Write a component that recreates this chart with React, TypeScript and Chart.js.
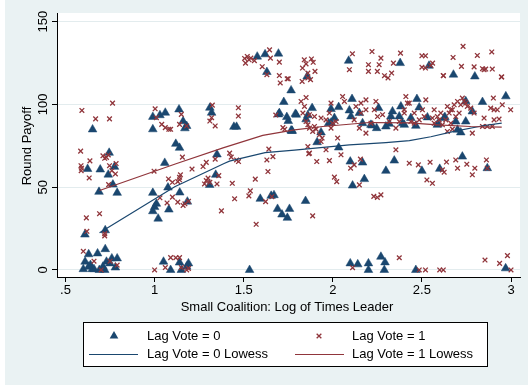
import React, { useEffect, useRef } from "react";
import { Chart, registerables } from "chart.js";
Chart.register(...registerables);

const xTicks = [0.5, 1, 1.5, 2, 2.5, 3];
const xTickLabels = [".5", "1", "1.5", "2", "2.5", "3"];
const yTicks = [0, 50, 100, 150];
const yTickLabels = ["0", "50", "100", "150"];
const seriesNames = ["Lag Vote = 0", "Lag Vote = 1", "Lag Vote = 0 Lowess", "Lag Vote = 1 Lowess"];
const xTitle = "Small Coalition: Log of Times Leader";
const yTitle = "Round Payoff";

const lagVote0: [number, number][] = [
  [0.652, 84.9], [0.745, 70.8], [0.624, 61], [0.695, 60.7], [0.74, 57.6], [0.775, 62.3], [0.766, 51.6], [0.688, 47.2], [0.79, 46.6],
  [0.723, 24], [0.609, 21.4], [0.723, 12.6], [0.63, 9.5], [0.68, 10],
  [0.61, 5], [0.64, 3], [0.6, 0.5], [0.65, 0.5], [0.69, 0], [0.73, 5], [0.76, 7], [0.79, 7], [0.72, 0], [0.78, 1.5], [0.66, 0.5], [0.63, 2], [0.71, 2], [0.75, 4],
  [0.99, 92.5], [1.03, 93.5], [1.06, 95], [0.99, 85], [1.057, 64.7], [1.075, 49.8], [0.99, 46.6], [1.0, 38], [0.99, 35.5], [1.01, 40], [1.08, 36.5], [1.02, 31], [1.05, 5], [1.09, 0], [1.119, 76.2],
  [1.137, 97], [1.31, 98], [1.32, 95], [1.16, 89.8], [1.18, 87], [1.17, 85.6], [1.445, 86.5], [1.46, 86.5], [1.14, 73.8], [1.35, 69.8], [1.343, 57.5], [1.309, 51.4], [1.141, 46.8], [1.184, 41.3],
  [1.593, 43], [1.654, 44.8], [1.67, 45.2], [1.69, 36.9], [1.715, 33.5], [1.745, 31.5], [1.14, 4.5], [1.19, 4], [1.15, 0], [1.18, 2], [1.533, 0],
  [1.576, 128.9], [1.62, 130.3], [1.695, 130.7], [1.63, 119.6], [1.766, 108.5], [1.725, 101.5], [1.695, 94], [1.75, 90], [1.77, 84],
  [1.856, 116.9], [2.089, 126.4], [2.378, 125], [2.54, 123.4], [2.677, 118], [2.797, 116.9], [2.108, 103.3], [2.472, 103.3], [2.84, 101.5], [2.971, 104.9], [2.746, 102],
  [1.884, 97.8], [1.795, 93.8], [2.033, 98.4], [1.99, 97.2], [2.093, 96.4], [2.102, 92.8], [2.149, 94.8], [2.167, 88.7], [2.257, 97.8], [2.214, 87.7], [2.246, 85.7], [2.298, 86.7],
  [2.335, 95.8], [2.382, 98.8], [2.373, 92.8], [2.326, 92.8], [2.391, 88.7], [1.85, 91], [1.86, 93.5], [1.977, 88.7], [1.99, 89], [1.772, 84.1], [1.934, 83.1], [1.912, 77.2], [2.033, 74],
  [2.401, 87.7], [2.531, 92.2], [2.587, 87.7], [2.625, 91.8], [2.69, 89.7], [2.746, 89.7], [2.7, 84.7], [2.718, 83.1], [2.783, 95.8], [2.438, 91.8],
  [1.7, 94.8], [1.742, 92.4], [1.79, 94.3], [1.766, 84.3], [2.009, 91.8], [2.22, 87.3], [2.317, 88.3], [2.466, 87.1], [2.591, 88.3], [2.629, 92.4], [2.485, 98.2],
  [2.098, 65.5], [2.167, 64.9], [2.345, 66.1], [2.727, 68.5], [2.298, 59.9], [2.5, 59.9], [2.6, 61.1], [2.867, 61.5], [2.177, 54.9], [2.111, 51], [1.847, 41.7], [1.757, 36.9],
  [2.098, 4], [2.14, 3.4], [2.2, 4], [2.2, 0], [2.27, 8], [2.293, 4.6], [2.289, 0], [2.466, 0], [2.97, 1],
];

const lagVote1: [number, number][] = [
  [0.764, 100.8], [0.592, 96.4], [0.669, 91.3], [0.747, 91.3], [0.585, 71.8], [0.637, 65.9], [0.71, 69], [0.73, 68], [0.74, 69.5], [0.72, 67.5], [0.784, 64.3],
  [0.587, 63], [0.59, 61.5], [0.588, 60], [0.747, 63], [0.76, 60], [0.78, 58], [0.633, 55.6], [0.742, 51.6], [0.617, 31.5], [0.691, 34], [0.62, 23.4],
  [0.72, 22], [0.72, 20.6], [0.6, 11.3], [0.66, 5.3], [0.79, 3], [0.75, 5.3], [0.7, 0],
  [1.003, 97.4], [1.01, 92], [1.04, 88], [1.06, 86], [1.08, 85], [1.09, 85], [0.997, 59.7], [1.078, 55], [1.03, 43.6], [1.07, 40.5], [1.1, 53], [1.1, 44],
  [1.0, 0], [1.06, 1.5], [1.09, 7.5], [1.13, 53.4], [1.14, 54.5], [1.13, 41], [1.16, 39], [1.17, 40], [1.156, 68.2], [1.119, 7.4], [1.18, 0],
  [1.51, 125], [1.53, 127], [1.54, 128], [1.52, 129], [1.56, 126.5], [1.505, 127.8], [1.645, 133], [1.604, 122.8], [1.65, 128], [1.63, 118], [1.7, 117.5], [1.705, 113], [1.75, 115.5], [1.7, 125.6],
  [1.324, 99.6], [1.15, 94], [1.14, 88], [1.18, 87], [1.31, 90], [1.32, 92], [1.34, 87], [1.47, 98], [1.47, 93], [1.68, 93.6], [1.72, 86], [1.73, 85],
  [1.21, 61], [1.272, 62.5], [1.29, 65], [1.34, 67], [1.421, 70.6], [1.43, 68.2], [1.471, 65.5], [1.46, 66.5], [1.63, 66.5], [1.641, 73], [1.664, 68.5], [1.636, 59.5],
  [1.14, 56], [1.145, 57.5], [1.29, 54], [1.3, 55.5], [1.31, 53], [1.28, 52], [1.36, 57], [1.35, 52], [1.436, 52.4], [1.565, 54.9], [1.537, 47.8], [1.529, 44.8],
  [1.449, 43], [1.623, 41.3], [1.658, 44.3], [1.19, 41.5], [1.375, 35.7], [1.57, 27.6], [1.14, 7.5], [1.19, 1], [1.15, 1.5],
  [1.83, 122], [1.84, 127], [1.85, 124.5], [1.89, 125.5], [1.86, 119], [1.88, 127.5], [1.875, 115], [1.86, 116], [1.744, 115.5], [1.9, 120],
  [2.093, 121], [2.11, 130.6], [2.2, 124], [2.22, 132], [2.26, 124], [2.2, 120], [2.25, 120], [2.27, 128], [2.29, 117.4], [2.31, 116], [2.33, 119], [2.34, 125], [2.38, 131],
  [2.5, 129.4], [2.52, 129.4], [2.5, 122.5], [2.52, 122], [2.55, 123.5], [2.56, 125], [2.62, 117.5], [2.675, 128.4], [2.722, 123], [2.731, 135.1], [2.793, 122.7],
  [2.811, 129.6], [2.84, 121.6], [2.858, 121.4], [2.895, 121.4], [2.892, 131.7], [2.948, 116.6],
  [1.828, 113.9], [1.85, 104.2], [1.822, 101.8], [1.841, 98.8], [1.832, 94.8], [1.869, 93.8], [1.897, 92.7], [1.934, 91.8], [1.85, 89.7], [1.86, 87.7], [1.869, 85.7],
  [1.897, 86.7], [1.906, 85.1], [1.887, 83.7], [1.925, 81.7], [1.94, 79.7], [1.934, 77.6], [1.86, 74.6], [1.869, 70.6], [1.962, 72.6], [2.027, 79.7], [2.046, 69.6],
  [1.99, 100.8], [1.981, 94.8], [1.962, 90.7], [1.999, 88.7], [2.018, 89.7], [1.99, 85.7], [2.055, 104.8], [2.065, 101.8], [2.13, 98.8], [2.158, 100.8], [2.186, 102.8],
  [2.242, 101.8], [2.186, 96.8], [2.158, 94.8], [2.12, 90.7], [2.149, 85.7], [2.186, 82.7], [2.214, 88.7], [2.233, 96.8], [2.251, 92.7], [2.279, 93.8], [2.317, 89.7],
  [2.354, 85.7], [2.373, 89.7], [2.401, 94.8], [2.41, 104.8], [2.429, 100.8], [2.354, 72.6],
  [2.621, 117.4], [2.849, 121], [2.946, 116.6], [2.419, 100.8], [2.522, 102.8], [2.401, 96.8], [2.457, 94.8], [2.503, 96.8], [2.513, 92.7], [2.569, 96.8], [2.559, 91.8],
  [2.587, 92.7], [2.606, 94.8], [2.643, 98.8], [2.662, 96.8], [2.681, 99.8], [2.653, 94.8], [2.7, 101.8], [2.718, 99.8], [2.727, 103.9], [2.737, 101.8], [2.746, 100.8],
  [2.755, 98.8], [2.774, 97.8], [2.793, 94.8], [2.709, 94.8], [2.69, 92.7], [2.671, 96.8], [2.634, 90.7], [2.662, 88.7], [2.597, 90.7], [2.615, 87.7], [2.569, 88.7],
  [2.643, 83.7], [2.671, 85.1], [2.783, 82.7], [2.84, 86.7], [2.867, 86.7], [2.895, 86.7], [2.905, 90.7], [2.933, 91.2], [2.849, 91.8], [2.886, 97.8], [2.905, 96.8],
  [2.923, 96.8], [2.951, 99.8], [2.998, 96.8], [2.901, 103.9], [2.457, 88.7], [2.438, 89.7], [2.485, 90.7],
  [1.865, 70.2], [1.91, 65.5], [1.981, 66.1], [2.009, 56.1], [2.022, 53.4], [2.1, 61.5], [2.12, 63.5], [2.155, 67], [2.149, 51.4], [2.429, 64.5], [2.48, 63.5],
  [2.528, 54.4], [2.546, 65.1], [2.559, 52.4], [2.615, 60.5], [2.625, 59.1], [2.638, 65.2], [2.69, 66.5], [2.7, 61.5], [2.752, 63.9], [2.783, 57.5], [2.797, 61.5],
  [2.862, 66.5], [2.867, 61.5], [2.23, 44.5], [2.25, 43.8], [2.27, 45.4], [1.887, 32.7],
  [2.373, 7.4], [2.111, 1.4], [2.485, 0], [2.52, 0], [2.6, 0], [2.62, 0], [2.854, 6], [2.936, 4], [2.98, 8.7], [3.0, 0],
];

const lowess0: [number, number][] = [
  [0.691, 22.5], [1.113, 50.3], [1.39, 64.3], [1.42, 65.8], [1.62, 70.9], [1.785, 72.4], [2.093, 75.6], [2.298, 77], [2.43, 78.2], [2.55, 80.5], [2.68, 83.7], [2.85, 87.3], [2.948, 88.7],
];
const lowess1: [number, number][] = [
  [0.691, 48], [1.12, 64.2], [1.384, 73.8], [1.607, 81.3], [1.785, 84.7], [1.944, 86.7], [2.205, 89.1], [2.43, 88.9], [2.587, 87.7], [2.774, 86.7], [2.948, 86.3],
];

const NAVY = "#1A476F";
const MAROON = "#90353B";
const FONT = '"Liberation Sans", Arial, Helvetica, sans-serif';

const X_MIN = 0.4523;
const X_MAX = 3.0505;
const Y_MIN = -4.23;
const Y_MAX = 155.26;

export default function App() {
  const ref = useRef<HTMLCanvasElement>(null);
  useEffect(() => {
    const canvas = ref.current!;
    const toPts = (a: [number, number][]) => a.map(([x, y]) => ({ x, y }));

    const drawTri = (ctx: CanvasRenderingContext2D, x: number, y: number, r: number) => {
      ctx.beginPath();
      ctx.moveTo(x, y - r);
      ctx.lineTo(x + r * Math.sin((2 * Math.PI) / 3), y - r * Math.cos((2 * Math.PI) / 3));
      ctx.lineTo(x + r * Math.sin((4 * Math.PI) / 3), y - r * Math.cos((4 * Math.PI) / 3));
      ctx.closePath();
      ctx.fill();
    };

    const bgPlugin = {
      id: "bg",
      beforeDraw(chart: any) {
        const { ctx, chartArea: a } = chart;
        ctx.save();
        ctx.fillStyle = "#ffffff";
        ctx.fillRect(0, 0, 528, 385);
        ctx.fillStyle = "#EAF2F3";
        ctx.fillRect(5, 0, 523, 385);
        ctx.fillStyle = "#ffffff";
        ctx.fillRect(a.left, a.top, a.right - a.left, a.bottom - a.top);
        ctx.restore();
      },
    };

    const decor = {
      id: "decor",
      afterDraw(chart: any) {
        const { ctx } = chart;
        const ys = chart.scales.y;
        ctx.save();
        ctx.fillStyle = "#000";
        ctx.font = `13px ${FONT}`;
        ctx.textAlign = "center";
        ctx.textBaseline = "middle";
        yTicks.forEach((v, i) => {
          const py = ys.getPixelForValue(v);
          ctx.save();
          ctx.translate(43, py);
          ctx.rotate(-Math.PI / 2);
          ctx.fillText(yTickLabels[i], 0, 0);
          ctx.restore();
        });
        ctx.save();
        ctx.translate(27, 146);
        ctx.rotate(-Math.PI / 2);
        ctx.fillText(yTitle, 0, 0);
        ctx.restore();
        ctx.fillText(xTitle, 287, 307);

        // legend
        ctx.fillStyle = "#ffffff";
        ctx.fillRect(83.5, 322.5, 404, 44);
        ctx.strokeStyle = "#000";
        ctx.lineWidth = 1;
        ctx.strokeRect(83.5, 322.5, 404, 44);
        ctx.textAlign = "left";
        ctx.fillStyle = "#000";
        ctx.fillText(seriesNames[0], 147, 336);
        ctx.fillText(seriesNames[1], 352, 336);
        ctx.fillText(seriesNames[2], 147, 354);
        ctx.fillText(seriesNames[3], 352, 354);
        ctx.fillStyle = NAVY;
        drawTri(ctx, 114, 336, 5);
        ctx.strokeStyle = MAROON;
        ctx.lineWidth = 1.3;
        const d = 3.3 * Math.SQRT1_2;
        ctx.beginPath();
        ctx.moveTo(319 - d, 336 - d);
        ctx.lineTo(319 + d, 336 + d);
        ctx.moveTo(319 - d, 336 + d);
        ctx.lineTo(319 + d, 336 - d);
        ctx.stroke();
        ctx.lineWidth = 1.2;
        ctx.strokeStyle = NAVY;
        ctx.beginPath();
        ctx.moveTo(89, 354.5);
        ctx.lineTo(138, 354.5);
        ctx.stroke();
        ctx.strokeStyle = MAROON;
        ctx.beginPath();
        ctx.moveTo(295, 354.5);
        ctx.lineTo(344, 354.5);
        ctx.stroke();
        ctx.restore();
      },
    };

    const chart = new Chart(canvas, {
      type: "scatter",
      data: {
        datasets: [
          {
            label: seriesNames[3],
            data: toPts(lowess1),
            showLine: true,
            borderColor: MAROON,
            backgroundColor: MAROON,
            borderWidth: 1.2,
            pointRadius: 0,
            tension: 0,
            order: 0,
          },
          {
            label: seriesNames[2],
            data: toPts(lowess0),
            showLine: true,
            borderColor: NAVY,
            backgroundColor: NAVY,
            borderWidth: 1.2,
            pointRadius: 0,
            tension: 0,
            order: 1,
          },
          {
            label: seriesNames[1],
            data: toPts(lagVote1),
            pointStyle: "crossRot",
            pointRadius: 3.3,
            borderColor: MAROON,
            backgroundColor: MAROON,
            pointBorderWidth: 1.3,
            order: 2,
          },
          {
            label: seriesNames[0],
            data: toPts(lagVote0),
            pointStyle: "triangle",
            pointRadius: 5,
            borderColor: NAVY,
            backgroundColor: NAVY,
            pointBorderWidth: 0.5,
            order: 3,
          },
        ] as any,
      },
      options: {
        animation: false,
        responsive: false,
        devicePixelRatio: 1,
        events: [],
        layout: { padding: { left: 0, right: 8, top: 13, bottom: 0 } },
        plugins: { legend: { display: false }, tooltip: { enabled: false }, title: { display: false } },
        scales: {
          x: {
            type: "linear",
            min: X_MIN,
            max: X_MAX,
            afterBuildTicks: (s: any) => {
              s.ticks = xTicks.map((v) => ({ value: v }));
            },
            afterFit: (s: any) => {
              s.height = 108;
            },
            ticks: {
              callback: (v: any) => {
                const i = xTicks.indexOf(Number(v));
                return i >= 0 ? xTickLabels[i] : "";
              },
              font: { family: FONT, size: 13 },
              color: "#000",
              padding: 1,
              maxRotation: 0,
              minRotation: 0,
              autoSkip: false,
            },
            grid: { drawOnChartArea: false, drawTicks: true, tickLength: 5, tickColor: "#000", tickWidth: 1 },
            border: { display: true, color: "#000", width: 1 },
          },
          y: {
            type: "linear",
            min: Y_MIN,
            max: Y_MAX,
            afterBuildTicks: (s: any) => {
              s.ticks = yTicks.map((v) => ({ value: v }));
            },
            afterFit: (s: any) => {
              s.width = 57;
            },
            ticks: { display: false },
            grid: { color: "#E3ECEE", lineWidth: 1, drawTicks: true, tickLength: 5, tickColor: "#000", tickWidth: 1 },
            border: { display: true, color: "#000", width: 1 },
          },
        },
      } as any,
      plugins: [bgPlugin, decor],
    });
    return () => chart.destroy();
  }, []);
  return (
    <div style={{ position: "fixed", left: 0, top: 0, width: 528, height: 385 }}>
      <canvas ref={ref} width={528} height={385} style={{ display: "block", width: 528, height: 385 }} />
    </div>
  );
}
